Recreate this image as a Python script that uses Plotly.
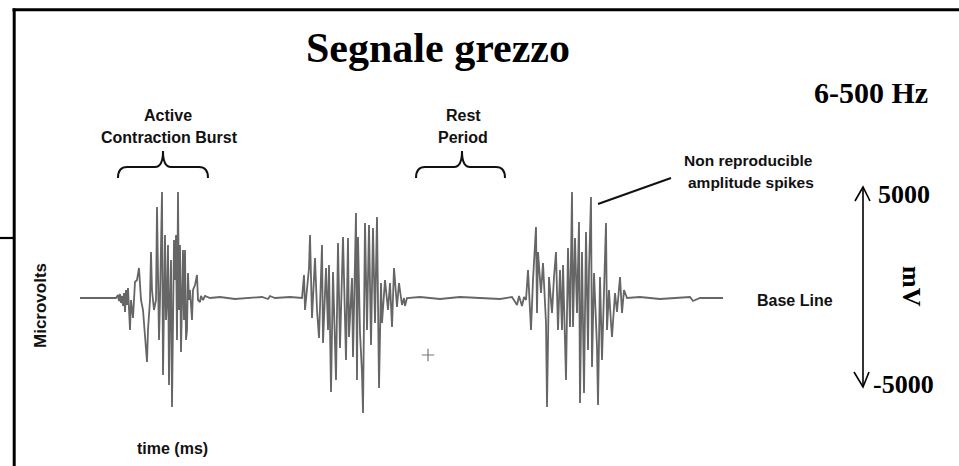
import plotly.graph_objects as go

W, H = 959, 466

# ---------------- data (time in ms, amplitude in microvolts) ----------------
t_pre = [0, 180]
v_pre = [0, 0]

t_burst1 = [190, 195, 200, 205, 210, 215, 220, 225, 230, 235, 240, 250, 255, 265, 275, 285,
            295, 305, 315, 325, 335, 340, 350, 355, 360, 370, 380, 385, 390, 395, 400, 410,
            415, 420, 425, 430, 435, 440, 445, 450, 455, 460, 465, 470, 475, 480, 485, 490,
            495, 500, 505, 510, 515, 520, 525, 530, 535, 540, 545, 550, 560, 565, 575, 585,
            590, 600, 605, 615, 625]
v_burst1 = [150, -150, 200, -250, 100, -400, 250, -700, 400, -350, 500, -1600, -100, -1000, 800, 900,
            1500, -100, -600, -1850, -3200, -1600, -100, 2300, 400, -600, -100, 4550, 1900, -2100, -100, 5300,
            -3850, 900, 3150, -1100, -100, 2650, -4350, -100, 1900, -5450, -1600, 2900, 900, 3150, -2100, 5300,
            -600, 2650, -2700, -100, 2400, -1100, 2400, -2100, -1600, 1250, -100, 400, -1100, 400, 650, 1150,
            -100, -200, 100, -100, 100]

t_rest1 = [650, 700, 775, 850, 910, 940, 950, 975, 1050, 1110]
v_rest1 = [0, 50, -50, 0, 50, -50, 100, 0, 50, 0]

t_burst2 = [1120, 1125, 1135, 1145, 1150, 1160, 1175, 1185, 1195, 1210, 1215, 1230, 1240, 1245, 1255, 1265,
            1280, 1290, 1300, 1310, 1315, 1330, 1340, 1345, 1360, 1365, 1380, 1385, 1390, 1400, 1410, 1415,
            1425, 1435, 1445, 1455, 1465, 1475, 1485, 1495, 1505, 1510, 1525, 1540, 1550, 1560, 1570, 1585,
            1595, 1610, 1620, 1625, 1635]
v_burst2 = [1150, -600, 650, 1500, 3150, -1000, 2000, -600, -2000, 2650, -2250, 1500, -1600, 1650, -4700, 1300,
            -4100, 2750, -2500, 1300, 3050, -3100, 3000, -1950, 1000, -2950, 4250, -4100, 3050, -1750, -3750, -5750,
            3750, -1600, 3650, -2350, 3500, -1250, 4050, -4500, 750, -1250, 900, -600, 750, -1450, 1500, -450,
            750, -350, 0, -400, 0]

t_rest2 = [1700, 1800, 1900, 2000, 2100, 2160]
v_rest2 = [50, -50, 50, 0, -50, 50]

t_burst3 = [2185, 2195, 2210, 2220, 2230, 2240, 2255, 2265, 2280, 2285, 2290, 2305, 2315, 2330, 2335, 2345,
            2360, 2370, 2380, 2390, 2400, 2410, 2415, 2430, 2440, 2450, 2460, 2465, 2475, 2485, 2495, 2500,
            2510, 2520, 2530, 2540, 2545, 2555, 2560, 2570, 2585, 2590, 2600, 2610, 2620, 2630, 2635, 2645,
            2655, 2660, 2675, 2685, 2700, 2710, 2720, 2735]
v_burst3 = [-350, 100, -400, 50, -100, 1400, -1600, 900, 3550, -750, 2300, 250, 1750, -1250, -5450, 1050,
            -750, 1050, 2300, -1600, 1400, -1600, 1650, -4100, 2500, -1450, 5300, -1450, 3000, -750, 3800, -5250,
            2300, -4750, 3300, -2600, 1400, 5050, -3450, 1250, -2450, -5350, 1050, -3100, 900, 3750, -1600, 400,
            -1250, -1950, 250, -700, 1050, -750, 400, 0]

t_post = [2800, 2900, 3050, 3065, 3100, 3215]
v_post = [50, -50, 50, -150, 0, 0]

marker_t = [1740]
marker_v = [-2850]

time_ms = t_pre + t_burst1 + t_rest1 + t_burst2 + t_rest2 + t_burst3 + t_post
microvolts = v_pre + v_burst1 + v_rest1 + v_burst2 + v_rest2 + v_burst3 + v_post

# ---------------- figure ----------------
fig = go.Figure()
fig.add_trace(go.Scatter(x=time_ms, y=microvolts, mode="lines",
                         line=dict(color="#666666", width=1.8), hoverinfo="skip",
                         showlegend=False))
fig.add_trace(go.Scatter(x=marker_t, y=marker_v, mode="markers",
                         marker=dict(symbol="cross-thin", size=9, color="#777",
                                     line=dict(width=1.2, color="#777")),
                         hoverinfo="skip", showlegend=False))


def px(x):
    return x / W


def py(y):
    return 1 - y / H


def path(points_cmds):
    out = []
    for c in points_cmds:
        if isinstance(c, str):
            out.append(c)
        else:
            out.append(f"{px(c[0]):.5f},{py(c[1]):.5f}")
    return " ".join(out)


shapes = []
blk = "#000000"
# frame lines
shapes.append(dict(type="line", xref="paper", yref="paper", x0=px(12.5), x1=px(959), y0=py(9.7), y1=py(9.7),
                   line=dict(color=blk, width=3)))
shapes.append(dict(type="line", xref="paper", yref="paper", x0=px(14.2), x1=px(14.2), y0=py(8.5), y1=py(466),
                   line=dict(color=blk, width=3)))
shapes.append(dict(type="line", xref="paper", yref="paper", x0=px(0), x1=px(14), y0=py(238), y1=py(238),
                   line=dict(color=blk, width=2.2)))


def brace(x0, xm, x1):
    return path(["M", (x0, 178), "Q", (x0, 167), (x0 + 9, 167), "L", (xm - 8, 167),
                 "Q", (xm, 167), (xm, 151), "Q", (xm, 167), (xm + 8, 167),
                 "L", (x1 - 9, 167), "Q", (x1, 167), (x1, 178)])


shapes.append(dict(type="path", xref="paper", yref="paper", path=brace(118, 163, 208),
                   line=dict(color="#111", width=2)))
shapes.append(dict(type="path", xref="paper", yref="paper", path=brace(416, 462, 505),
                   line=dict(color="#111", width=2)))
# pointer line to spikes
shapes.append(dict(type="line", xref="paper", yref="paper", x0=px(598), y0=py(204), x1=px(671), y1=py(178),
                   line=dict(color="#111", width=2)))
# scale arrow
shapes.append(dict(type="line", xref="paper", yref="paper", x0=px(863), x1=px(863), y0=py(188), y1=py(386),
                   line=dict(color=blk, width=1.6)))
shapes.append(dict(type="path", xref="paper", yref="paper",
                   path=path(["M", (855, 201), "L", (863, 187), "L", (870, 201)]),
                   line=dict(color=blk, width=1.6)))
shapes.append(dict(type="path", xref="paper", yref="paper",
                   path=path(["M", (854, 372), "L", (863, 387), "L", (869, 372)]),
                   line=dict(color=blk, width=1.6)))

ann = []
SERIF = "Liberation Serif"
SANS = "Liberation Sans"


def txt(s, x, y, size, family, xanchor="center", angle=0, color="#000"):
    ann.append(dict(text=s, x=px(x), y=py(y), xref="paper", yref="paper", showarrow=False,
                    xanchor=xanchor, yanchor="middle", textangle=angle,
                    font=dict(family=family, size=size, color=color)))


txt("<b>Segnale grezzo</b>", 438, 48, 42, SERIF)
txt("<b>6-500 Hz</b>", 871, 92, 30, SERIF)
txt("<b>5000</b>", 876, 194, 26, SERIF, xanchor="left")
txt("<b>-5000</b>", 871, 384, 26, SERIF, xanchor="left")
txt("<b>mV</b>", 912, 286, 26, SERIF, angle=90)
txt("<b>Active</b>", 168, 115, 16, SANS, color="#111")
txt("<b>Contraction Burst</b>", 169, 137, 16, SANS, color="#111")
txt("<b>Rest</b>", 463, 115, 16, SANS, color="#111")
txt("<b>Period</b>", 463, 137, 16, SANS, color="#111")
txt("<b>Non reproducible</b>", 748, 160, 15.5, SANS, color="#111")
txt("<b>amplitude spikes</b>", 751, 182, 15.5, SANS, color="#111")
txt("<b>Base Line</b>", 795, 300, 16, SANS, color="#111")
txt("<b>Microvolts</b>", 40, 306, 17, SANS, angle=-90, color="#111")
txt("<b>time (ms)</b>", 172, 448, 16, SANS, color="#111")

fig.update_layout(
    width=W, height=H,
    margin=dict(l=0, r=0, t=0, b=0),
    paper_bgcolor="white", plot_bgcolor="white",
    xaxis=dict(range=[-400, 4395], visible=False, fixedrange=True),
    yaxis=dict(range=[-8400, 14900], visible=False, fixedrange=True),
    shapes=shapes, annotations=ann, showlegend=False,
)

fig.write_html("out.html", config={"displayModeBar": False},
               post_script="document.body.style.margin='0';document.body.style.padding='0';")
